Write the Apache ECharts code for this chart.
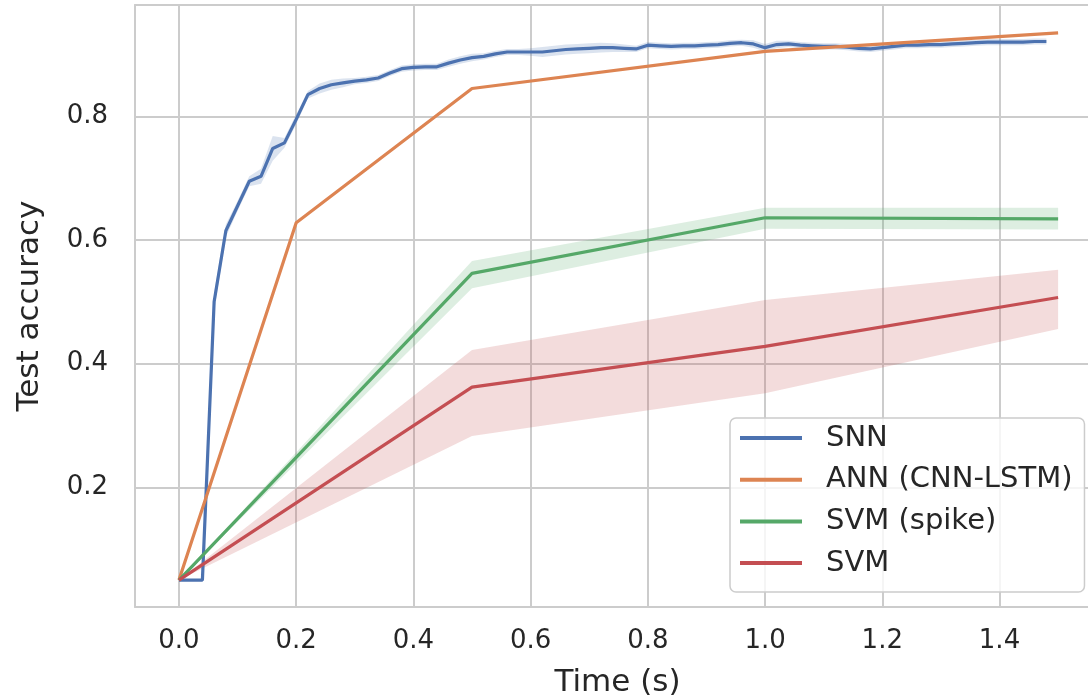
<!DOCTYPE html>
<html>
<head>
<meta charset="utf-8">
<script src="https://cdn.jsdelivr.net/npm/echarts@6/dist/echarts.min.js"></script>
<style>
html,body{margin:0;padding:0;background:#fff;}
#chart{width:1088px;height:699px;}
</style>
</head>
<body>
<div id="chart"></div>
<script>
// ---- data ----
const xTicks = [0.0, 0.2, 0.4, 0.6, 0.8, 1.0, 1.2, 1.4];
const yTicks = [0.2, 0.4, 0.6, 0.8];
const seriesNames = ['SNN', 'ANN (CNN-LSTM)', 'SVM (spike)', 'SVM'];

const snnTime = [0.00,0.02,0.04,0.06,0.08,0.10,0.12,0.14,0.16,0.18,
  0.20,0.22,0.24,0.26,0.28,0.30,0.32,0.34,0.36,0.38,
  0.40,0.42,0.44,0.46,0.48,0.50,0.52,0.54,0.56,0.58,
  0.60,0.62,0.64,0.66,0.68,0.70,0.72,0.74,0.76,0.78,
  0.80,0.82,0.84,0.86,0.88,0.90,0.92,0.94,0.96,0.98,
  1.00,1.02,1.04,1.06,1.08,1.10,1.12,1.14,1.16,1.18,
  1.20,1.22,1.24,1.26,1.28,1.30,1.32,1.34,1.36,1.38,
  1.40,1.42,1.44,1.46,1.48];
const snnAcc = [0.050,0.050,0.050,0.500,0.615,0.655,0.695,0.703,0.748,0.757,
  0.795,0.835,0.845,0.851,0.854,0.857,0.859,0.862,0.870,0.877,
  0.879,0.880,0.880,0.886,0.891,0.895,0.897,0.901,0.904,0.904,
  0.904,0.904,0.906,0.908,0.909,0.910,0.911,0.911,0.910,0.909,
  0.915,0.914,0.913,0.914,0.914,0.915,0.916,0.918,0.919,0.917,
  0.911,0.916,0.917,0.915,0.914,0.913,0.913,0.912,0.910,0.909,
  0.911,0.913,0.915,0.915,0.916,0.916,0.917,0.918,0.919,0.920,
  0.920,0.920,0.920,0.921,0.921];
const snnErr = [0.000,0.000,0.000,0.015,0.010,0.008,0.008,0.012,0.020,0.008,
  0.008,0.006,0.008,0.008,0.007,0.005,0.005,0.005,0.005,0.005,
  0.005,0.005,0.005,0.006,0.006,0.006,0.005,0.005,0.005,0.005,
  0.006,0.008,0.008,0.008,0.008,0.008,0.008,0.007,0.006,0.005,
  0.005,0.005,0.005,0.005,0.005,0.005,0.005,0.005,0.005,0.006,
  0.006,0.006,0.005,0.005,0.005,0.005,0.005,0.005,0.005,0.005,
  0.005,0.005,0.005,0.005,0.005,0.005,0.005,0.005,0.005,0.005,
  0.005,0.005,0.005,0.005,0.005];

const annTime = [0.0, 0.2, 0.5, 1.0, 1.5];
const annAcc  = [0.050, 0.628, 0.845, 0.905, 0.935];

const svmTime   = [0.0, 0.5, 1.0, 1.5];
const spikeAcc  = [0.050, 0.546, 0.636, 0.634];
const spikeLow  = [0.050, 0.522, 0.618, 0.617];
const spikeHigh = [0.050, 0.566, 0.652, 0.652];
const svmAcc    = [0.050, 0.362, 0.428, 0.507];
const svmLow    = [0.050, 0.283, 0.352, 0.456];
const svmHigh   = [0.050, 0.422, 0.503, 0.552];

// ---- styling ----
const colors = ['#4C72B0', '#DD8452', '#55A868', '#C44E52'];
const FONT = 'DejaVu Sans';
const TXT = '#262626';
const EDGE = '#cccccc';

function pairs(xs, ys) { return xs.map((x, i) => [x, ys[i]]); }

// confidence band drawn as a polygon through the axis scales
function band(xs, lo, hi, color) {
  return {
    type: 'custom', silent: true, z: 1,
    data: xs.map((x, i) => [x, lo[i], hi[i]]),
    encode: { x: 0, y: [1, 2] },
    renderItem: function (params, api) {
      if (params.dataIndex !== 0) return null;
      const top = xs.map((x, i) => api.coord([x, hi[i]]));
      const bot = xs.map((x, i) => api.coord([x, lo[i]])).reverse();
      return {
        type: 'polygon',
        shape: { points: top.concat(bot) },
        style: { fill: color, opacity: 0.2 }
      };
    }
  };
}

function mainLine(name, xs, ys, color, z) {
  return { name: name, type: 'line', data: pairs(xs, ys), symbol: 'none', color: color,
    lineStyle: { color: color, width: 3.2 }, z: z, silent: true };
}

const series = [
  band(snnTime, snnAcc.map((v, i) => v - snnErr[i]), snnAcc.map((v, i) => v + snnErr[i]), colors[0]),
  band(svmTime, spikeLow, spikeHigh, colors[2]),
  band(svmTime, svmLow, svmHigh, colors[3]),
  mainLine(seriesNames[0], snnTime, snnAcc, colors[0], 2),
  mainLine(seriesNames[1], annTime, annAcc, colors[1], 3),
  mainLine(seriesNames[2], svmTime, spikeAcc, colors[2], 4),
  mainLine(seriesNames[3], svmTime, svmAcc, colors[3], 5)
];

const XMIN = -0.075, XMAX = 1.551; // right side of the axes is cut off by the image edge

const chart = echarts.init(document.getElementById('chart'), null, { renderer: 'canvas' });
chart.setOption({
  animation: false,
  backgroundColor: '#ffffff',
  grid: { left: 135, right: 0, top: 5, bottom: 92, show: false, containLabel: false,
    outerBoundsMode: 'none' },
  xAxis: [{
    type: 'value', min: XMIN, max: XMAX, position: 'bottom',
    name: 'Time (s)', nameLocation: 'middle', nameGap: 60,
    nameTextStyle: { fontFamily: FONT, fontSize: 31, color: TXT, padding: [0, 0, 0, 12] },
    axisLine: { show: true, onZero: false, lineStyle: { color: EDGE, width: 2 } },
    axisTick: { show: false, customValues: xTicks },
    axisLabel: { customValues: xTicks, formatter: v => v.toFixed(1), margin: 21,
      fontFamily: FONT, fontSize: 26, color: TXT },
    splitLine: { show: true, lineStyle: { color: EDGE, width: 2 } }
  }, {
    type: 'value', min: XMIN, max: XMAX, position: 'top',
    axisLine: { show: true, onZero: false, lineStyle: { color: EDGE, width: 2 } },
    axisTick: { show: false }, axisLabel: { show: false }, splitLine: { show: false }
  }],
  yAxis: {
    type: 'value', min: 0.0065, max: 0.98,
    name: 'Test accuracy', nameLocation: 'middle', nameGap: 90,
    nameTextStyle: { fontFamily: FONT, fontSize: 31, color: TXT },
    axisLine: { show: true, onZero: false, lineStyle: { color: EDGE, width: 2 } },
    axisTick: { show: false, customValues: yTicks },
    axisLabel: { customValues: yTicks, formatter: v => v.toFixed(1), margin: 27,
      fontFamily: FONT, fontSize: 26, color: TXT },
    splitLine: { show: true, lineStyle: { color: EDGE, width: 2 } }
  },
  legend: {
    data: seriesNames, orient: 'vertical', left: 730, top: 418,
    icon: 'rect', itemWidth: 62, itemHeight: 4, itemGap: 11.7,
    padding: [5, 12, 14, 10],
    borderColor: EDGE, borderWidth: 1.5, borderRadius: 6,
    backgroundColor: 'rgba(255,255,255,0.8)',
    textStyle: { fontFamily: FONT, fontSize: 29, color: TXT, lineHeight: 30, padding: [0, 0, 0, 19] },
    selectedMode: false
  },
  series: series
});
</script>
</body>
</html>
